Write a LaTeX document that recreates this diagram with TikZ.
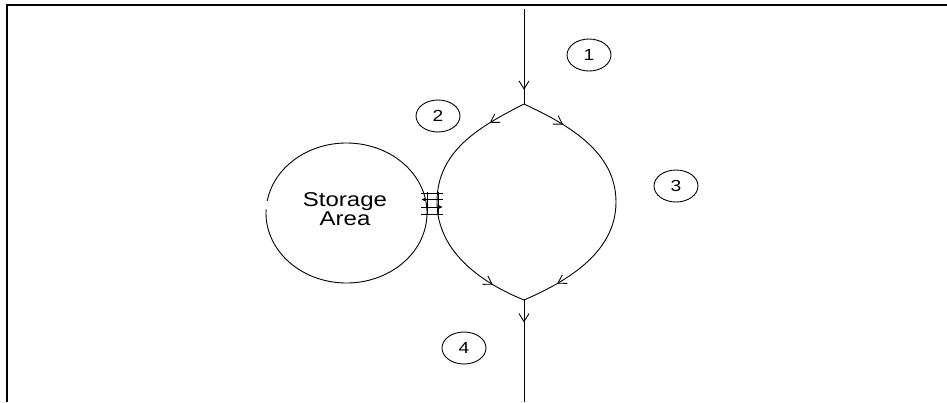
\documentclass[tikz,border=0pt]{standalone}
\usepackage{fontspec}
\newfontfamily\cadfont[FakeStretch=1.2]{Liberation Sans}
\usetikzlibrary{arrows.meta,decorations.markings,shapes.geometric}

\begin{document}
\begin{tikzpicture}[x=1pt,y=-1pt,line width=0.9pt,
  barb/.tip={Straight Barb[length=8pt,width=10pt,line width=0.9pt]},
  flow/.style={postaction={decorate},
    decoration={markings,mark=at position #1 with {\arrow{barb}}}},
  tag/.style={draw,ellipse,minimum width=44pt,minimum height=32pt,inner sep=0pt,
    font=\cadfont\fontsize{16}{16}\selectfont},
  label/.style={align=center,inner sep=0pt,
    font=\cadfont\fontsize{20}{19}\selectfont},
  rung/.style={line width=0.8pt},
  frame/.style={line width=2pt}]
\useasboundingbox (0,0) rectangle (947,402);

% sheet border (top and left edges)
\draw[frame] (947,5) -- (7,5) -- (7,402);

% main stream points
\coordinate (in)  at (524,9);
\coordinate (T)   at (524,104);
\coordinate (L)   at (437,202);
\coordinate (R)   at (616,202);
\coordinate (B)   at (524,300);
\coordinate (out) at (524,402);

% inlet and outlet
\draw[flow=0.85] (in) -- (T);
\draw[flow=0.22] (B) -- (out);

% split loop: left and right branches
\draw[flow=0.28] (T) .. controls (481,126) and (437,150) .. (L);
\draw[flow=0.75] (L) .. controls (437,252) and (482,283) .. (B);
\draw[flow=0.31] (T) .. controls (569,125) and (616,152) .. (R);
\draw[flow=0.74] (R) .. controls (616,252) and (568,281) .. (B);

% storage area
\coordinate (sc) at (346.5,213);
\node[label] (store) at (345,209) {Storage\\Area};
\draw (sc) ++(190:80.5 and 70)
  arc[start angle=190,end angle=543,x radius=80.5,y radius=70];

% exchange between storage and loop
\coordinate (xa) at (421,193);
\coordinate (xb) at (443,193);
\coordinate (xc) at (421,214);
\coordinate (xd) at (443,214);
\draw[rung] (427,192) -- (427,215);
\draw[rung] (438,192) -- (438,215);
\draw[rung] (xa) -- (xb);
\draw[rung] (xc) -- (xd);
\draw[rung,-{Latex[length=4pt,width=3.5pt]}] (443,199.5) -- (421,199.5);
\draw[rung,-{Latex[length=4pt,width=3.5pt]}] (421,207) -- (443,207);

% section tags
\node[tag] (t1) at (589,55)  {1};
\node[tag] (t2) at (438,116) {2};
\node[tag] (t3) at (676,186) {3};
\node[tag] (t4) at (464,348) {4};
\end{tikzpicture}
\end{document}
